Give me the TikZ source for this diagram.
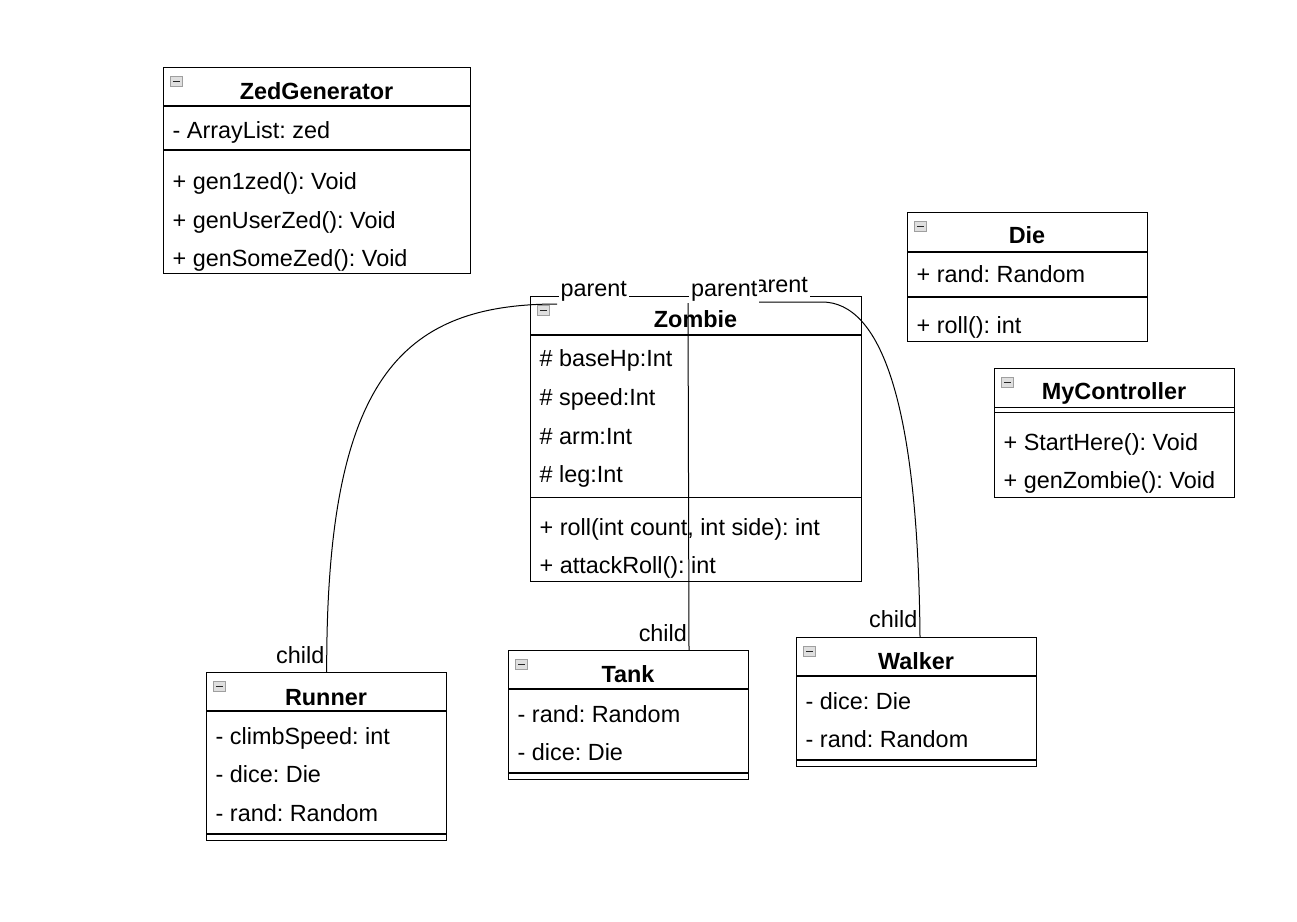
\documentclass[tikz,border=0pt]{standalone}
\usepackage{fontspec}
\setmainfont{Liberation Sans}
\usepackage{tikz}
\frenchspacing

\begin{document}
\begin{tikzpicture}[x=1pt,y=-1pt,line width=1.4pt,
    every node/.style={font=\fontsize{23.4}{28}\selectfont},
    classbox/.style={draw,inner sep=0pt,anchor=north west},
    classtitle/.style={anchor=base,inner sep=0pt,font=\fontsize{23.4}{28}\selectfont\bfseries},
    member/.style={anchor=base west,inner sep=0pt},
    icon/.style={draw=gray!75,fill=gray!25,line width=0.8pt,minimum width=12pt,minimum height=10pt,inner sep=0pt,anchor=north west,
        path picture={\draw[line width=1.3pt,black!85] ([xshift=2.5pt]path picture bounding box.west) -- ([xshift=-2.5pt]path picture bounding box.east);}},
    assoc/.style={line width=1pt},
    rolelabel/.style={anchor=base,inner sep=2pt,fill=white},
    childlabel/.style={anchor=base east,inner sep=0pt}]
            \useasboundingbox (0,0) rectangle (1297,921);
            % ZedGenerator
            \node[classbox,minimum width=307,minimum height=206] (zedgen) at (163,67) {};
            \node[icon] (zedgenicon) at (170,76) {};
            \node[classtitle] (zedgenname) at (316.5,99) {ZedGenerator};
            \draw (163,106) -- (470,106) (163,150) -- (470,150);
            \node[member] (zedgenlist) at (172,138) {- ArrayList: zed};
            \node[member] (zedgenone) at (172,189) {+ gen1zed(): Void};
            \node[member] (zedgenuser) at (172,228) {+ genUserZed(): Void};
            \node[member] (zedgensome) at (172,266) {+ genSomeZed(): Void};
            % Die
            \node[classbox,minimum width=240,minimum height=129] (die) at (907,212) {};
            \node[icon] (dieicon) at (914,221) {};
            \node[classtitle] (diename) at (1027,243.3) {Die};
            \draw (907,252) -- (1147,252) (907,297) -- (1147,297);
            \node[member] (dierand) at (916,282.5) {+ rand: Random};
            \node[member] (dieroll) at (916,333.3) {+ roll(): int};
            % MyController
            \node[classbox,minimum width=240,minimum height=128.5] (ctrl) at (994,368) {};
            \node[icon] (ctrlicon) at (1001,377) {};
            \node[classtitle] (ctrlname) at (1114,399.3) {MyController};
            \draw (994,407.3) -- (1234,407.3) (994,412.7) -- (1234,412.7);
            \node[member] (ctrlstart) at (1003,450.7) {+ StartHere(): Void};
            \node[member] (ctrlgen) at (1003,488.3) {+ genZombie(): Void};
            % Zombie
            \node[classbox,minimum width=331,minimum height=285] (zombie) at (530,296) {};
            \node[icon] (zombieicon) at (537,305) {};
            \node[classtitle] (zombiename) at (695.5,327.7) {Zombie};
            \draw (530,335) -- (861,335) (530,497.3) -- (861,497.3);
            \node[member] (zombiehp) at (539,366.7) {\# baseHp:Int};
            \node[member] (zombiespeed) at (539,405.7) {\# speed:Int};
            \node[member] (zombiearm) at (539,444.3) {\# arm:Int};
            \node[member] (zombieleg) at (539,482.7) {\# leg:Int};
            \node[member] (zombieroll) at (539,535) {+ roll(int count, int side): int};
            \node[member] (zombieattack) at (539,573.3) {+ attackRoll(): int};
            % Runner
            \node[classbox,minimum width=240,minimum height=168] (runner) at (206,672) {};
            \node[icon] (runnericon) at (213,681) {};
            \node[classtitle] (runnername) at (326,705) {Runner};
            \draw (206,711) -- (446,711) (206,834) -- (446,834);
            \node[member] (runnerclimb) at (215,744) {- climbSpeed: int};
            \node[member] (runnerdice) at (215,782.7) {- dice: Die};
            \node[member] (runnerrand) at (215,821) {- rand: Random};
            % Tank
            \node[classbox,minimum width=240,minimum height=129] (tank) at (508,650) {};
            \node[icon] (tankicon) at (515,659) {};
            \node[classtitle] (tankname) at (628,682.7) {Tank};
            \draw (508,689) -- (748,689) (508,773) -- (748,773);
            \node[member] (tankrand) at (517,722) {- rand: Random};
            \node[member] (tankdice) at (517,760.7) {- dice: Die};
            % Walker
            \node[classbox,minimum width=240,minimum height=129] (walker) at (796,637) {};
            \node[icon] (walkericon) at (803,646) {};
            \node[classtitle] (walkername) at (916,669.7) {Walker};
            \draw (796,676) -- (1036,676) (796,760) -- (1036,760);
            \node[member] (walkerdice) at (805,709) {- dice: Die};
            \node[member] (walkerrand) at (805,747.7) {- rand: Random};
            % connectors
            \coordinate (zombieleft) at (557,304);
            \coordinate (zombiemid) at (688,303);
            \coordinate (zombieright) at (746,302);
            \coordinate (tanktop) at (689,650);
            \coordinate (walkertop) at (920,637);
            \draw[assoc] (runner.north) .. controls (326,380) and (400,304) .. (zombieleft);
            \draw[assoc] (tanktop) -- (zombiemid);
            \draw[assoc] (zombieright) -- (822,302) .. controls (880,302) and (918,400) .. (walkertop);
            \node[rolelabel] (walkerparent) at (774.8,292) {parent};
            \node[rolelabel] (runnerparent) at (593.7,296) {parent};
            \node[rolelabel] (tankparent) at (724.2,296) {parent};
            \node[childlabel] (runnerchild) at (325,663.3) {child};
            \node[childlabel] (tankchild) at (687.6,641) {child};
            \node[childlabel] (walkerchild) at (918,627.5) {child};
        \end{tikzpicture}
\end{document}
